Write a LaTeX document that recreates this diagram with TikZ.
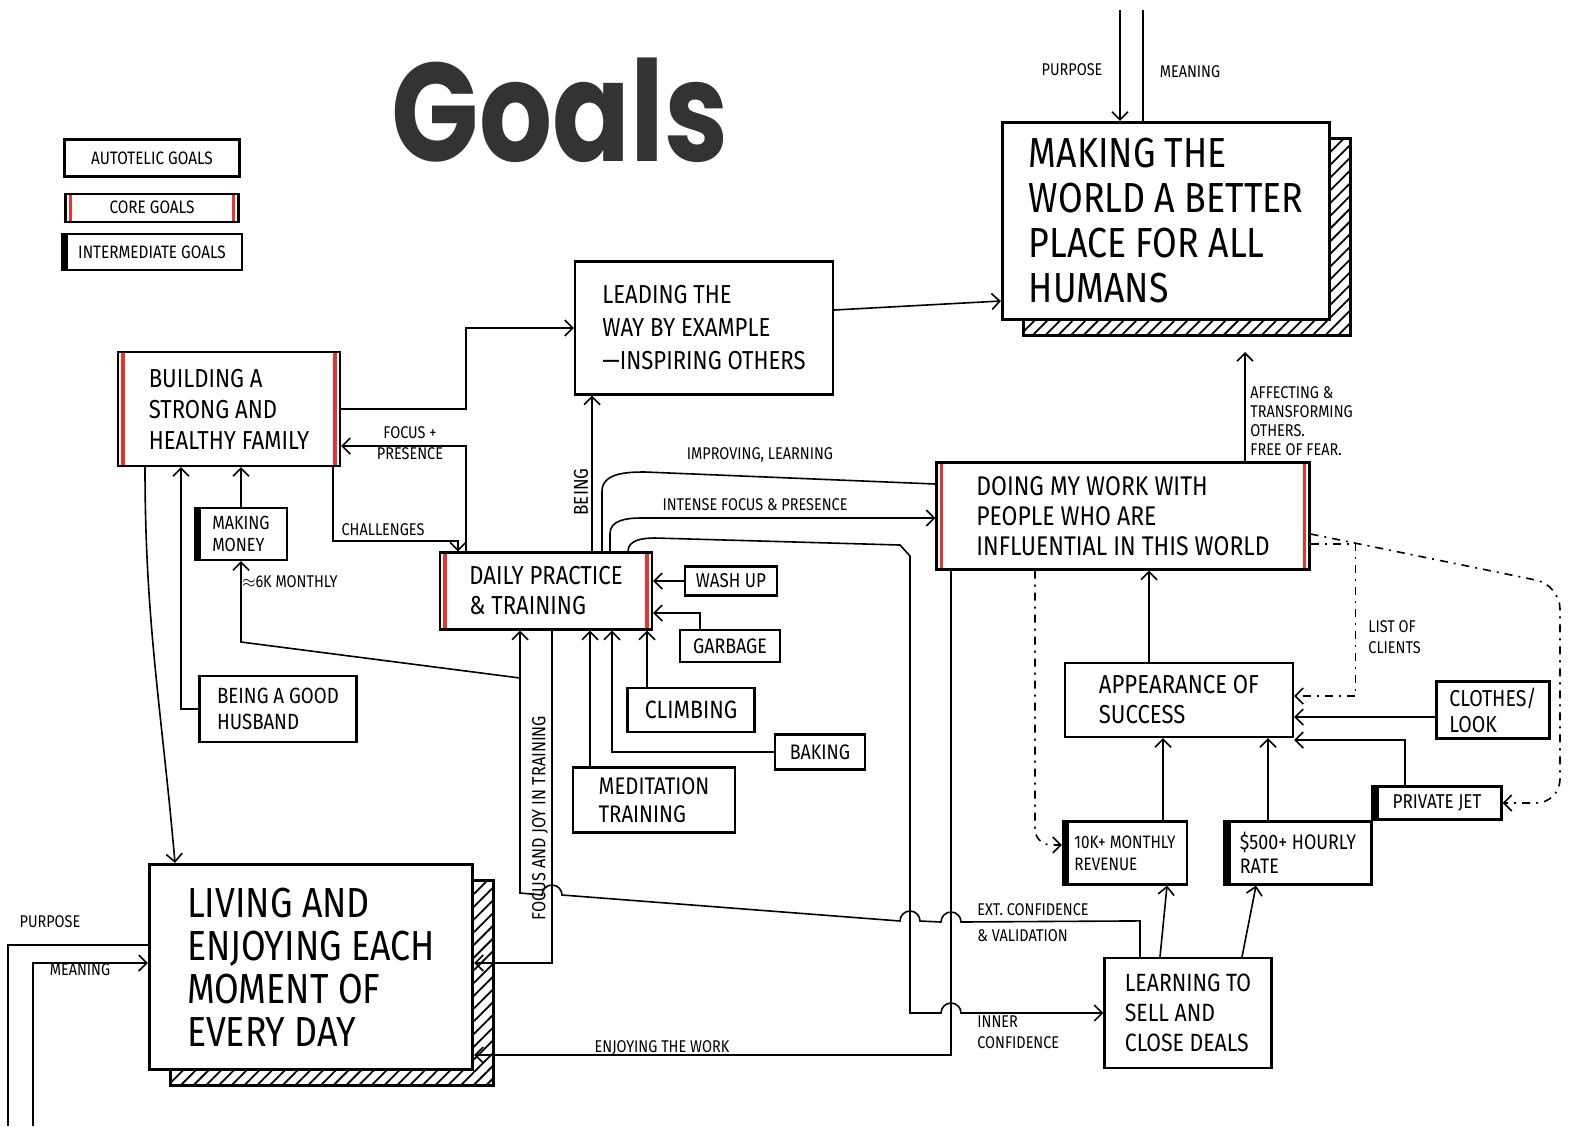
\documentclass[tikz,border=0pt]{standalone}
\usepackage{fontspec}
\setmainfont{Fira Sans}[FakeStretch=0.85]
\newfontfamily\titlefont{Poppins}[FakeStretch=0.82]
\usepackage{tikz}
\usetikzlibrary{arrows.meta, positioning, patterns.meta, shadows}
\definecolor{corered}{HTML}{E8352C}

\begin{document}
\begin{tikzpicture}[
    x=0.5pt, y=-0.5pt,
    stepbox/.style={rectangle, draw, line width=1.1pt, align=left, fill=white, inner sep=3pt},
    core/.style={stepbox, path picture={
        \draw[corered, line width=1.6pt] ([xshift=2.5pt]path picture bounding box.north west) -- ([xshift=2.5pt]path picture bounding box.south west);
        \draw[corered, line width=1.6pt] ([xshift=-2.5pt]path picture bounding box.north east) -- ([xshift=-2.5pt]path picture bounding box.south east);}},
    inter/.style={stepbox, path picture={
        \fill[black] (path picture bounding box.north west) rectangle ([xshift=3pt]path picture bounding box.south west);}},
    goal/.style={stepbox, line width=1.6pt, general shadow={shadow xshift=10.5pt, shadow yshift=-8pt, draw, line width=1.2pt,
        pattern={Lines[angle=45, distance=4.5pt, line width=0.9pt]}}},
    arrow/.style={-{Straight Barb[length=4pt, width=8pt]}, line width=0.8pt},
    dashdot/.style={dash pattern=on 4pt off 3pt on 1pt off 3pt, line width=0.9pt},
    lbl/.style={font=\fontsize{8.5}{10.5}\selectfont, inner sep=1pt, align=left}
]

\useasboundingbox (0,0) rectangle (1572,1126);

% Legend and title
\node[stepbox, minimum width=87.5pt, minimum height=18.5pt, font=\fontsize{9}{10}\selectfont] (autotelic) at (152,158) {AUTOTELIC GOALS};
\node[core, minimum width=86.5pt, minimum height=14pt, font=\fontsize{9}{10}\selectfont, below=7.5pt of autotelic] (coreGoals) {CORE GOALS};
\node[inter, minimum width=90pt, minimum height=18pt, font=\fontsize{9}{10}\selectfont, below=5pt of coreGoals] (interGoals) {INTERMEDIATE GOALS};
\node[font=\titlefont\bfseries\fontsize{70}{70}\selectfont, text=black!80] (title) at (560,110) {Goals};

% Autotelic goals
\node[goal, minimum width=163.5pt, minimum height=98.5pt, font=\fontsize{21}{22.5}\selectfont] (world) at (1166,221)
    {MAKING THE\\WORLD A BETTER\\PLACE FOR ALL\\HUMANS};
\node[goal, minimum width=161.5pt, minimum height=102.5pt, font=\fontsize{21}{21.5}\selectfont] (living) at (311,967)
    {LIVING AND\\ENJOYING EACH\\MOMENT OF\\EVERY DAY};
\node[stepbox, minimum width=129pt, minimum height=66.5pt, font=\fontsize{13}{16.5}\selectfont] (leading) at (704,328)
    {LEADING THE\\WAY BY EXAMPLE\\---INSPIRING OTHERS};

% Core goals
\node[core, minimum width=111pt, minimum height=57pt, font=\fontsize{13}{15.5}\selectfont] (family) at (229,409)
    {BUILDING A\\STRONG AND\\HEALTHY FAMILY};
\node[core, minimum width=106pt, minimum height=38.5pt, font=\fontsize{13}{15}\selectfont] (daily) at (546,591)
    {DAILY PRACTICE\\\& TRAINING};
\node[core, minimum width=186.5pt, minimum height=53.5pt, font=\fontsize{13.5}{15}\selectfont] (doing) at (1123,516)
    {DOING MY WORK WITH\\PEOPLE WHO ARE\\INFLUENTIAL IN THIS WORLD};

% Intermediate goals
\node[inter, minimum width=46pt, minimum height=26pt, font=\fontsize{9.5}{11}\selectfont] (money) at (241,534) {MAKING\\MONEY};
\node[inter, minimum width=64.5pt, minimum height=16.5pt, font=\fontsize{10}{11}\selectfont] (jet) at (1437,803) {PRIVATE JET};
\node[inter, minimum width=62pt, minimum height=31.5pt, font=\fontsize{9}{11}\selectfont] (revenue) at (1125,853) {10K+ MONTHLY\\REVENUE};
\node[inter, minimum width=73.5pt, minimum height=31.5pt, font=\fontsize{10.5}{12}\selectfont] (rate) at (1298,853) {\$500+ HOURLY\\RATE};

% Other boxes
\node[stepbox, minimum width=46pt, minimum height=14.5pt, font=\fontsize{10}{11}\selectfont] (washUp) at (731,581) {WASH UP};
\node[stepbox, minimum width=50pt, minimum height=16pt, font=\fontsize{10.5}{11}\selectfont] (garbage) at (730,646) {GARBAGE};
\node[stepbox, minimum width=63.5pt, minimum height=22pt, font=\fontsize{12.5}{13}\selectfont] (climbing) at (691,710) {CLIMBING};
\node[stepbox, minimum width=45pt, minimum height=17.5pt, font=\fontsize{10.5}{11}\selectfont] (baking) at (820,752) {BAKING};
\node[stepbox, minimum width=81pt, minimum height=32.5pt, font=\fontsize{12}{14}\selectfont] (meditation) at (654,800) {MEDITATION\\TRAINING};
\node[stepbox, minimum width=78.5pt, minimum height=33pt, font=\fontsize{11}{13}\selectfont] (husband) at (278,709) {BEING A GOOD\\HUSBAND};
\node[stepbox, minimum width=114pt, minimum height=37pt, font=\fontsize{13}{15}\selectfont] (appearance) at (1179,700) {APPEARANCE OF\\SUCCESS};
\node[stepbox, minimum width=56.5pt, minimum height=27.5pt, font=\fontsize{11.5}{13}\selectfont] (clothes) at (1493,710) {CLOTHES/\\LOOK};
\node[stepbox, minimum width=83.5pt, minimum height=55pt, font=\fontsize{12.5}{15}\selectfont] (selling) at (1188,1013) {LEARNING TO\\SELL AND\\CLOSE DEALS};

% Labels
\node[lbl] (worldPurpose) at (1072,70) {PURPOSE};
\node[lbl] (worldMeaning) at (1190,72) {MEANING};
\node[lbl, align=center] (focusTxt) at (410,443) {FOCUS +\\PRESENCE};
\node[lbl] (challTxt) at (383,530) {CHALLENGES};
\node[lbl] (sixK) at (290,582) {$\approx$6K MONTHLY};
\node[lbl, rotate=90, font=\fontsize{10}{11}\selectfont] (beingTxt) at (581,492) {BEING};
\node[lbl] (improveTxt) at (760,455) {IMPROVING, LEARNING};
\node[lbl] (intenseTxt) at (755,505) {INTENSE FOCUS \& PRESENCE};
\node[lbl, anchor=north west, font=\fontsize{8.5}{9.6}\selectfont] (affectTxt) at (1248,384) {AFFECTING \&\\TRANSFORMING\\OTHERS.\\FREE OF FEAR.};
\node[lbl, anchor=west] (clientsTxt) at (1366,637) {LIST OF\\CLIENTS};
\node[lbl, rotate=90, font=\fontsize{9.5}{10}\selectfont] (joyTxt) at (540,818) {FOCUS AND JOY IN TRAINING};
\node[lbl, anchor=west, font=\fontsize{8.5}{13}\selectfont] (extTxt) at (975,923) {EXT. CONFIDENCE\\\& VALIDATION};
\node[lbl, anchor=west] (innerTxt) at (975,1032) {INNER\\CONFIDENCE};
\node[lbl] (enjoyTxt) at (662,1048) {ENJOYING THE WORK};
\node[lbl] (livingPurpose) at (50,922) {PURPOSE};
\node[lbl] (livingMeaning) at (80,970) {MEANING};

% Purpose and meaning
\coordinate (wPurp) at (1120,10);
\coordinate (wMean) at (1143,10);
\draw[arrow] (wPurp) -- (wPurp |- world.north);
\draw[line width=0.8pt] (wMean) -- (wMean |- world.north);
\coordinate (lPurp) at (8,1126);
\coordinate (lMean) at (33,1126);
\draw[line width=0.8pt] (lPurp) |- ([yshift=11pt]living.west);
\draw[arrow] (lMean) |- ([yshift=2pt]living.west);

% Family side
\draw[arrow] ([yshift=9pt]leading.east) -- ([yshift=-40pt]world.west);
\draw[arrow] (family.east) -- ++(125,0) |- (leading.west);
\draw[arrow] ([xshift=-40pt]daily.north) |- ([yshift=-18.5pt]family.east);
\draw[arrow] ([xshift=52pt]family.south) -- ++(0,74) -| ([xshift=-44pt]daily.north);
\draw[arrow] (money.north) -- (money.north |- family.south);
\draw[arrow] (husband.west) -| ([xshift=-24pt]family.south);
\draw[arrow] ([xshift=-42pt]family.south) to[out=-90, in=95] ([xshift=-68pt]living.north);

% Daily practice
\draw[arrow] ([xshift=23pt]daily.north) -- ([xshift=23pt]daily.north |- leading.south);
\draw[line width=0.8pt] ([xshift=28pt]daily.north) -- ++(0,-60) to[out=90, in=180] (645,472) -- ([yshift=16pt]doing.west);
\draw[arrow] ([xshift=32pt]daily.north) -- ++(0,-18) to[out=90, in=180] (640,518) -- ([yshift=-1pt]doing.west);
\draw[arrow] (washUp.west) -- (washUp.west -| daily.east);
\draw[arrow] ([xshift=-15pt]garbage.north) |- ([yshift=-11pt]daily.east);
\draw[arrow] ([xshift=-22pt]climbing.north) -- ([xshift=-22pt]climbing.north |- daily.south);
\draw[arrow] (baking.west) -| ([xshift=33pt]daily.south);
\draw[arrow] ([xshift=-32pt]meditation.north) -- ([xshift=-32pt]meditation.north |- daily.south);
\draw[arrow] ([xshift=3pt]daily.south) |- ([yshift=2pt]living.east);

% Confidence loops
\coordinate (extTurn) at (520,678);
\draw[arrow] ([xshift=-24pt]selling.north) -- ++(0,-36) -- (961,922) arc(360:180:10) -- (920,921) arc(360:180:10)
    -- (562,895) arc(360:180:10) -- (520,893) -- (extTurn) -- (241,642) -- (money.south);
\draw[arrow] (extTurn) -- (extTurn |- daily.south);
\draw[arrow] ([xshift=41pt]daily.north) to[out=90, in=180] (655,538) -- (900,545) -- (910,556)
    -- (910,1013) -- (941,1013) arc(180:360:10) -- (selling.west);
\draw[arrow] ([xshift=-86pt]doing.south) |- ([yshift=-44pt]living.east);

% Work side
\coordinate (affect) at (1245,352);
\draw[arrow] ([xshift=61pt]doing.north) -- (affect);
\draw[arrow] ([xshift=-15pt]appearance.north) -- ([xshift=-15pt]appearance.north |- doing.south);
\draw[arrow] ([xshift=19pt]revenue.north) -- ([xshift=19pt]revenue.north |- appearance.south);
\draw[arrow] ([xshift=-15pt]rate.north) -- ([xshift=-15pt]rate.north |- appearance.south);
\draw[arrow] ([xshift=-14pt]selling.north) -- ([xshift=21pt]revenue.south);
\draw[arrow] ([xshift=27pt]selling.north) -- ([xshift=-21pt]rate.south);
\draw[arrow] ([yshift=-3.5pt]clothes.west) -- ([yshift=-3.5pt]clothes.west -| appearance.east);
\draw[arrow] ([xshift=-16pt]jet.north) |- ([yshift=-20pt]appearance.east);

% Dotted links
\coordinate (jetCorner) at (1560,585);
\draw[dashdot, arrow] ([yshift=-14pt]doing.east) -- ++(45,0) |- ([yshift=2pt]appearance.east);
\draw[dashdot, arrow, rounded corners=12pt] ([yshift=-9pt]doing.east) -- (jetCorner) |- (jet.east);
\draw[dashdot, arrow, rounded corners=8pt] ([xshift=-44pt]doing.south) |- ([yshift=4pt]revenue.west);

\end{tikzpicture}
\end{document}
